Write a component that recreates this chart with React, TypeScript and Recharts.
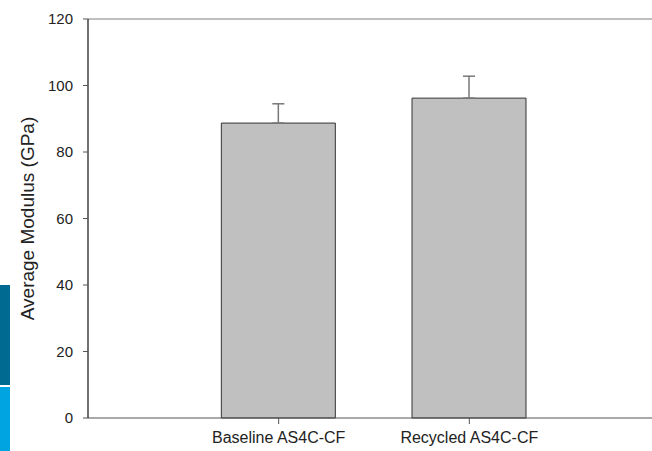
import * as React from 'react';
import {
  BarChart, Bar, XAxis, YAxis, ErrorBar, ReferenceLine, Label
} from 'recharts';

// fibre samples and their measured modulus (GPa) with upper std. deviation
const CATEGORIES = ['Baseline AS4C-CF', 'Recycled AS4C-CF'];
const MODULUS = [88.7, 96.2];
const STD_DEV = [5.8, 6.6];
const Y_TICKS = [0, 20, 40, 60, 80, 100, 120];

const data = CATEGORIES.map((name, i) => ({
  pos: i + 1,
  name,
  modulus: MODULUS[i],
  err: [0, STD_DEV[i]],
}));

const FONT = '"Liberation Sans", Arial, sans-serif';

const AxisTitle = (props: any) => {
  const { viewBox } = props;
  const cy = viewBox.y + viewBox.height / 2;
  return (
    <text
      x={34}
      y={cy}
      transform={`rotate(-90, 34, ${cy})`}
      textAnchor="middle"
      fontSize={19}
      fontFamily={FONT}
      fill="#222"
    >
      Average Modulus (GPa)
    </text>
  );
};

const App: React.FunctionComponent = () => {
  return (
    <div style={{ position: 'absolute', left: 0, top: 0, width: 652, height: 451, overflow: 'hidden', background: '#fff' }}>
      {/* slide accent strips on the left edge */}
      <div style={{ position: 'absolute', left: 0, top: 285, width: 10, height: 100, background: '#006a90' }} />
      <div style={{ position: 'absolute', left: 0, top: 387, width: 10, height: 64, background: '#00a4e0' }} />
      <BarChart
        width={660}
        height={451}
        data={data}
        margin={{ top: 19, right: 0, bottom: 3, left: 0 }}
        style={{ fontFamily: FONT }}
      >
        <XAxis
          type="number"
          dataKey="pos"
          domain={[0, 3]}
          ticks={[1, 2]}
          tickFormatter={(v: number) => CATEGORIES[v - 1]}
          height={30}
          tickSize={6}
          tickMargin={8}
          axisLine={{ stroke: '#555' }}
          tickLine={{ stroke: '#555' }}
          tick={{ fontSize: 16, fill: '#222' }}
        />
        <YAxis
          type="number"
          domain={[0, 120]}
          ticks={Y_TICKS}
          width={88}
          tickSize={5}
          tickMargin={10}
          axisLine={{ stroke: '#111', strokeWidth: 1.2 }}
          tickLine={{ stroke: '#555' }}
          tick={{ fontSize: 15, fill: '#222' }}
        >
          <Label content={AxisTitle} />
        </YAxis>
        <ReferenceLine y={120} stroke="#aaa" strokeWidth={1.5} />
        <Bar
          dataKey="modulus"
          barSize={114}
          fill="#c0c0c0"
          stroke="#333"
          strokeWidth={1}
          isAnimationActive={false}
        >
          <ErrorBar dataKey="err" direction="y" width={6} stroke="#777" strokeWidth={1.5} />
        </Bar>
      </BarChart>
    </div>
  );
};

export default App;
